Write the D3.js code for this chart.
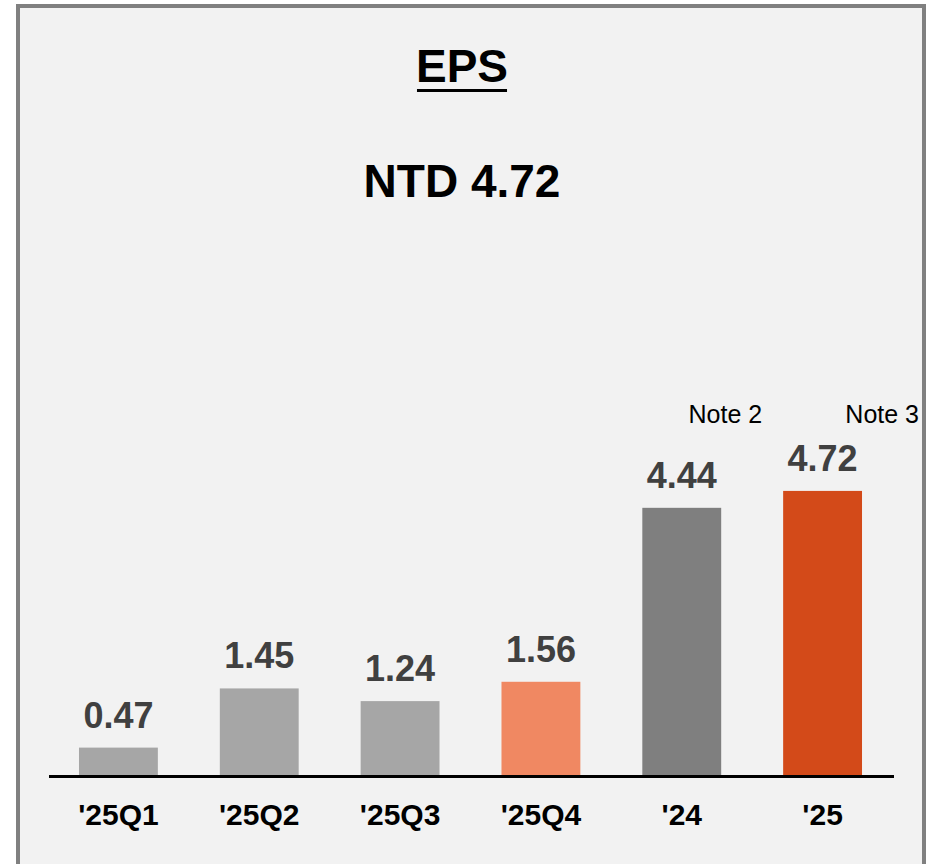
<!DOCTYPE html>
<html lang="en">
    <head>
        <meta charset="utf-8">
        <title>EPS</title>
        <script type="text/javascript" src="https://d3js.org/d3.v7.min.js"></script>
        <style type="text/css">
            body {
                margin: 0;
                background: #ffffff;
            }
            svg text {
                font-family: "Liberation Sans", Arial, sans-serif;
            }
            .axis path {
                stroke: #000000;
                stroke-width: 2.5px;
                shape-rendering: crispEdges;
            }
            .axis text {
                font-size: 30px;
                font-weight: bold;
                fill: #000000;
            }
        </style>
    </head>
    <body>
        <script type="text/javascript">

            var categories = ["'25Q1", "'25Q2", "'25Q3", "'25Q4", "'24", "'25"];
            var eps = [0.47, 1.45, 1.24, 1.56, 4.44, 4.72];
            var barColors = ["#a6a6a6", "#a6a6a6", "#a6a6a6", "#f08862", "#7f7f7f", "#d34a19"];
            var notes = ["", "", "", "", "Note 2", "Note 3"];
            var title = "EPS";
            var headline = "NTD 4.72";

            var w = 932, h = 864;

            var svg = d3.select("body")
                        .append("svg")
                        .attr("width", w)
                        .attr("height", h);

            // panel with grey frame
            svg.append("rect")
                .attr("x", 18)
                .attr("y", 6)
                .attr("width", 906)
                .attr("height", 900)
                .attr("fill", "#f2f2f2")
                .attr("stroke", "#808080")
                .attr("stroke-width", 4);

            var titleText = svg.append("text")
                .attr("x", 462)
                .attr("y", 82)
                .attr("text-anchor", "middle")
                .style("font-size", "46px")
                .style("font-weight", "bold")
                .text(title);

            var tb = titleText.node().getBBox();
            svg.append("rect")
                .attr("x", tb.x + 1)
                .attr("y", 89)
                .attr("width", tb.width - 2)
                .attr("height", 3)
                .attr("fill", "#000000");

            svg.append("text")
                .attr("x", 462)
                .attr("y", 197)
                .attr("text-anchor", "middle")
                .style("font-size", "46px")
                .style("font-weight", "bold")
                .text(headline);

            var xscale = d3.scaleBand()
                   .domain(categories)
                   .range([48, 893])
                   .paddingInner(0.44)
                   .paddingOuter(0.22);

            var yscale = d3.scaleLinear()
                   .domain([0, 5])
                   .range([776, 474]);

            svg.selectAll("rect.bar")
                .data(eps)
                .enter()
                .append("rect")
                .attr("class", "bar")
                .attr("x", function(d, i) { return xscale(categories[i]); })
                .attr("y", function(d) { return yscale(d); })
                .attr("width", xscale.bandwidth())
                .attr("height", function(d) { return yscale(0) - yscale(d); })
                .attr("fill", function(d, i) { return barColors[i]; });

            svg.selectAll("text.val")
                .data(eps)
                .enter()
                .append("text")
                .attr("class", "val")
                .attr("x", function(d, i) { return xscale(categories[i]) + xscale.bandwidth() / 2; })
                .attr("y", function(d) { return yscale(d) - 20; })
                .attr("text-anchor", "middle")
                .style("font-size", "36px")
                .style("font-weight", "bold")
                .style("fill", "#404040")
                .text(function(d) { return d.toFixed(2); });

            // notes sit to the upper right of the annual bars
            var noteShift = {"Note 2": 41, "Note 3": 57};
            svg.selectAll("text.note")
                .data(notes.filter(function(n) { return n !== ""; }))
                .enter()
                .append("text")
                .attr("class", "note")
                .attr("x", function(n) {
                    var i = notes.indexOf(n);
                    return xscale(categories[i]) + xscale.bandwidth() + noteShift[n];
                })
                .attr("y", 423)
                .attr("text-anchor", "end")
                .style("font-size", "25px")
                .style("fill", "#000000")
                .text(function(n) { return n; });

            var x_axis = d3.axisBottom(xscale)
                   .tickSize(0)
                   .tickSizeOuter(0)
                   .tickPadding(28);

            svg.append("g")
                .attr("class", "axis")
                .attr("transform", "translate(0," + yscale(0) + ")")
                .call(x_axis);

        </script>
    </body>
</html>
